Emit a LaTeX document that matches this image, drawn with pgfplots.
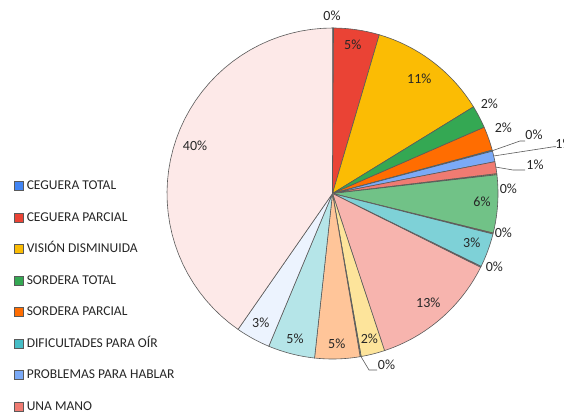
\documentclass[border=0pt]{standalone}
\usepackage{fontspec}
\setmainfont{Carlito}
\usepackage{pgfplots}
\usepackage{pgfplotstable}
\pgfplotsset{compat=1.18}

\definecolor{c0}{HTML}{4285F4}
\definecolor{c1}{HTML}{EA4335}
\definecolor{c2}{HTML}{FBBC04}
\definecolor{c3}{HTML}{34A853}
\definecolor{c4}{HTML}{FF6D01}
\definecolor{c5}{HTML}{46BDC6}
\definecolor{c6}{HTML}{7BAAF7}
\definecolor{c7}{HTML}{F07B72}
\definecolor{c8}{HTML}{FCD04F}
\definecolor{c9}{HTML}{71C287}
\definecolor{c10}{HTML}{FF994D}
\definecolor{c11}{HTML}{7ED1D7}
\definecolor{c12}{HTML}{B3CEFB}
\definecolor{c13}{HTML}{F7B4AE}
\definecolor{c14}{HTML}{FDE49B}
\definecolor{c15}{HTML}{AEDCBA}
\definecolor{c16}{HTML}{FFC599}
\definecolor{c17}{HTML}{B5E5E8}
\definecolor{c18}{HTML}{ECF3FE}
\definecolor{c19}{HTML}{FDE9E8}
\definecolor{edge}{HTML}{5A5A5A}
\definecolor{txt}{HTML}{262626}

% share of each slice (percent), clockwise from 12 o'clock
\pgfplotstableread{
pct
0.10
4.46
11.67
2.22
2.33
0.10
1.04
1.17
0.10
5.65
0.10
3.32
0.10
12.55
2.32
0.10
4.40
4.56
3.38
40.35
}\piedata

\begin{document}
\begin{tikzpicture}[
  pieslice/.style={draw=edge, line width=0.6bp},
  lab/.style={font=\fontsize{14bp}{16bp}\selectfont, text=txt, inner sep=0pt},
  leader/.style={draw=edge, line width=0.6bp},
]
\begin{axis}[
  width=564bp, height=413bp, scale only axis,
  xmin=0, xmax=564, ymin=0, ymax=413, y dir=reverse,
  hide axis,
  legend entries={CEGUERA TOTAL, CEGUERA PARCIAL, VISIÓN DISMINUIDA, SORDERA TOTAL, SORDERA PARCIAL, DIFICULTADES PARA OÍR, PROBLEMAS PARA HABLAR, UNA MANO},
  legend image code/.code={\draw[#1, line width=0.6bp, draw=edge] (0bp,-4.5bp) rectangle (9bp,4.5bp);},
  legend cell align=left,
  legend style={at={(axis cs:11,178)}, anchor=north west, draw=none, fill=none,
    font=\fontsize{13.5bp}{15bp}\selectfont, text=txt,
    row sep=19.5bp, column sep=3bp,
    nodes={inner sep=0pt, text height=9.5bp, text depth=2.5bp}},
]
\def\cum{0}
\pgfplotsforeachungrouped \i in {0,...,19}{%
  \pgfplotstablegetelem{\i}{pct}\of\piedata
  \let\p\pgfplotsretval
  \pgfmathsetmacro\a{\cum*3.6}%
  \pgfmathsetmacro\cum{\cum+\p}%
  \pgfmathsetmacro\b{\cum*3.6}%
  \edef\cmd{\noexpand\addplot[pieslice, fill=c\i, domain=\a:\b, samples=40]
    ({332.5+165.5*sin(x)},{193.5-165.5*cos(x)}) -- (axis cs:332.5,193.5) -- cycle;}%
  \cmd
}
% leader lines
\addplot[leader, forget plot] coordinates {(492.4,150.7) (520,141) (525,141)};
\addplot[leader, forget plot] coordinates {(493.6,156) (554,146.7) (556,146.7)};
\addplot[leader, forget plot] coordinates {(495.9,167.1) (513,170) (525,170)};
\addplot[leader, forget plot] coordinates {(360.9,356.5) (369,370) (377,370)};
% labels
\node[lab] at (axis cs:332,16) {0\%};
\node[lab] at (axis cs:352.7,45) {5\%};
\node[lab] at (axis cs:419.3,78.5) {11\%};
\node[lab] at (axis cs:489.3,103.3) {2\%};
\node[lab] at (axis cs:503.3,127.7) {2\%};
\node[lab] at (axis cs:534,135) {0\%};
\node[lab] at (axis cs:564,143.5) {1\%};
\node[lab] at (axis cs:535,165) {1\%};
\node[lab] at (axis cs:508.3,188.3) {0\%};
\node[lab] at (axis cs:482,202) {6\%};
\node[lab] at (axis cs:503.3,232.7) {0\%};
\node[lab] at (axis cs:471.7,242.7) {3\%};
\node[lab] at (axis cs:494.3,266.7) {0\%};
\node[lab] at (axis cs:428.3,302.7) {13\%};
\node[lab] at (axis cs:369.3,338.3) {2\%};
\node[lab] at (axis cs:386.5,365) {0\%};
\node[lab] at (axis cs:336.7,344) {5\%};
\node[lab] at (axis cs:295,338.3) {5\%};
\node[lab] at (axis cs:260.7,322.7) {3\%};
\node[lab] at (axis cs:195,146) {40\%};
\end{axis}
\pgfresetboundingbox
\useasboundingbox (current axis.south west) rectangle (current axis.north east);
\end{tikzpicture}
\end{document}
